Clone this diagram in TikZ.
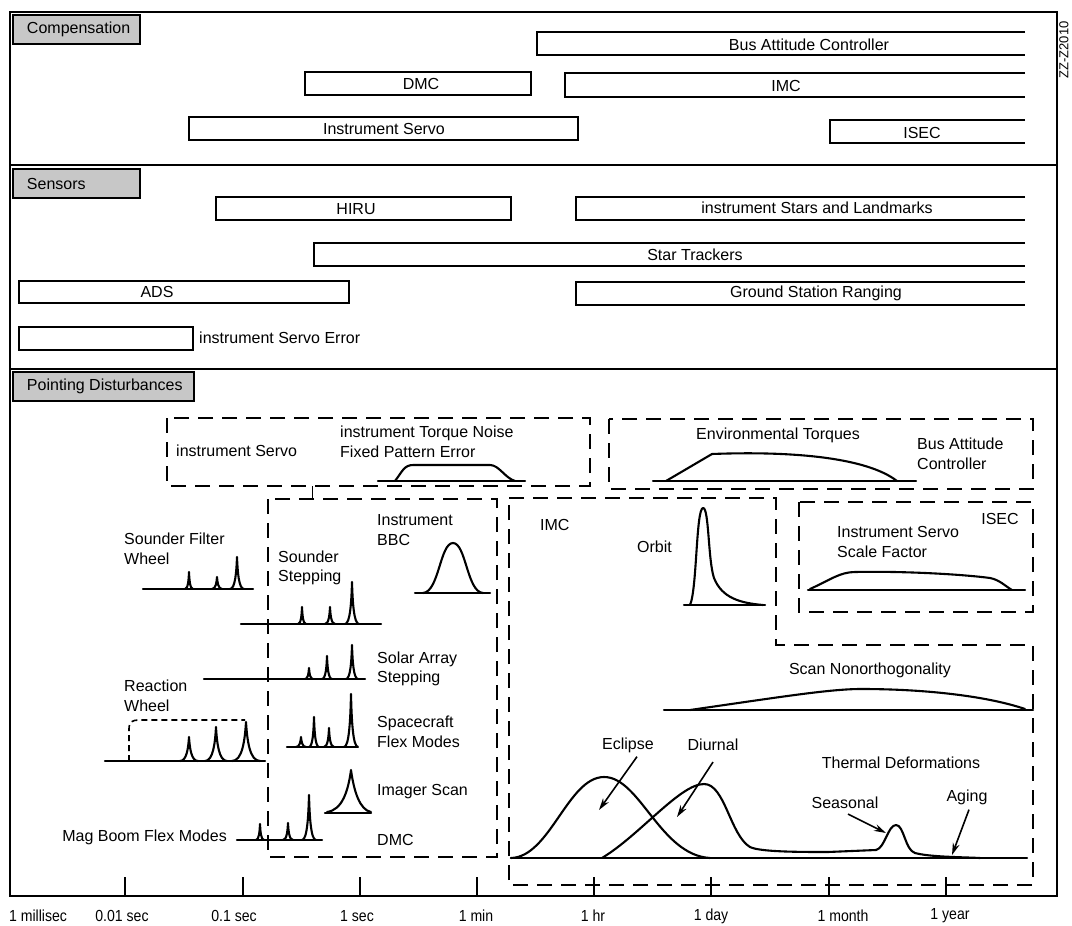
\documentclass[tikz,border=0pt]{standalone}
\usepackage{fontspec}
\setmainfont{Liberation Sans}
\usetikzlibrary{arrows.meta}
\tikzset{
  frame/.style={line width=2pt},
  bar/.style={line width=2.8pt},
  hdr/.style={draw, line width=2pt, fill=black!22, anchor=north west, inner xsep=14pt, inner ysep=0pt, minimum height=29pt, font=\fontsize{16}{19.5}\selectfont},
  lbl/.style={inner sep=0pt, font=\fontsize{16}{19.5}\selectfont},
  lblL/.style={lbl, anchor=west, align=left},
  dbox/.style={line width=2pt, dash pattern=on 15pt off 9pt},
  crv/.style={line width=2.1pt, line join=round, line cap=round},
  arr/.style={line width=1.6pt, -{Stealth[length=12pt,width=7pt]}},
  axlbl/.style={inner sep=0pt, font=\fontsize{16}{19}\selectfont},
}
\newcommand\myspike[4]{% x, base y, height, half width
  \draw[crv] ({#1-#4},#2) .. controls ({#1-0.25*#4},#2) and ({#1-0.08*#4},{#2-0.55*#3}) .. (#1,{#2-#3}) .. controls ({#1+0.08*#4},{#2-0.55*#3}) and ({#1+0.25*#4},#2) .. ({#1+#4},#2);}
\begin{document}
\begin{tikzpicture}[x=1pt,y=-1pt]
\useasboundingbox (0,0) rectangle (1072,926);
% frame
\draw[frame] (10,12) -- (1057,12) -- (1057,896) -- (10,896) -- cycle;
\draw[frame] (10,165) -- (1057,165);
\draw[frame] (10,369) -- (1057,369);
\node[rotate=90, inner sep=0pt, font=\fontsize{13}{15}\selectfont] (fig) at (1064,50) {ZZ-Z2010};
% headers
\node[hdr] (hComp) at (12,14) {\makebox[99pt][l]{Compensation}};
\node[hdr] (hSens) at (12,168) {\makebox[99pt][l]{Sensors}};
\node[hdr] (hPoint) at (12,371) {\makebox[153pt][l]{Pointing Disturbances}};
% compensation bars
\draw[bar] (1025,32) -- (537,32) -- (537,55) -- (1025,55);
\draw[bar] (305,72) rectangle (531,95);
\draw[bar] (1025,73) -- (565,73) -- (565,97) -- (1025,97);
\draw[bar] (189,117) rectangle (578,140);
\draw[bar] (1025,120) -- (830,120) -- (830,143) -- (1025,143);
\node[lbl] (tBAC) at (809,45) {Bus Attitude Controller};
\node[lbl] (tDMC) at (421,84) {DMC};
\node[lbl] (tIMC) at (786,86) {IMC};
\node[lbl] (tIS) at (384,129) {Instrument Servo};
\node[lbl] (tISEC) at (922,133) {ISEC};
% sensor bars
\draw[bar] (216,197) rectangle (511,220);
\draw[bar] (1025,197) -- (576,197) -- (576,220) -- (1025,220);
\draw[bar] (1025,243) -- (314,243) -- (314,266) -- (1025,266);
\draw[bar] (19,281) rectangle (349,303);
\draw[bar] (1025,282) -- (576,282) -- (576,305) -- (1025,305);
\draw[bar] (19,327) rectangle (193,350);
\node[lbl] (tHIRU) at (356,209) {HIRU};
\node[lbl] (tSL) at (817,208) {instrument Stars and Landmarks};
\node[lbl] (tST) at (695,255) {Star Trackers};
\node[lbl] (tADS) at (157,292) {ADS};
\node[lbl] (tGSR) at (816,293) {Ground Station Ranging};
\node[lblL] (tISE) at (199,338) {instrument Servo Error};
% dashed boxes
\draw[dbox] (167,418) rectangle (590,486);
\draw[dbox] (609,419) rectangle (1033,489);
\draw[dbox] (268,499) rectangle (497,857);
\draw[dbox] (509,498) -- (776,498) -- (776,645) -- (1033,645) -- (1033,885) -- (509,885) -- cycle;
\draw[dbox] (799,502) rectangle (1033,612);
\draw[line width=1pt] (312,486) -- (312,498);
% box 1
\node[lblL] (tIS2) at (176,451) {instrument Servo};
\node[lblL] (tTN) at (340,442) {instrument Torque Noise\\Fixed Pattern Error};
\draw[crv] (378,481) -- (525,481);
\draw[crv] (395,481) .. controls (402,472) and (404,465) .. (413,465) -- (490,465) .. controls (499,465) and (505,478) .. (515,481);
% box 2
\node[lbl] (tET) at (778,435) {Environmental Torques};
\node[lblL] (tBAC2) at (917,454) {Bus Attitude\\Controller};
\draw[crv] (653,481) -- (916,481);
\draw[crv] (666,481) -- (712,454) .. controls (790,451) and (866,457) .. (897,481);
% left spectra
\node[lblL] (tSFW) at (124,549) {Sounder Filter\\Wheel};
\draw[crv] (143,589) -- (253,589);
\myspike{189}{589}{17}{4}
\myspike{217}{589}{12}{5}
\myspike{237}{589}{32}{7}
\node[lblL] (tSS) at (278,568) {Sounder\\Stepping};
\draw[crv] (241,624) -- (381,624);
\myspike{302}{624}{17}{4}
\myspike{330}{624}{17}{5}
\myspike{352}{624}{42}{7}
\node[lblL] (tBBC) at (377,530) {Instrument\\BBC};
\draw[crv] (415,593) -- (490,593);
\draw[crv] (423,593) .. controls (439,592) and (440,543) .. (453,543) .. controls (466,543) and (467,592) .. (483,593);
\node[lblL] (tSA) at (377,669) {Solar Array\\Stepping};
\draw[crv] (204,679) -- (365,679);
\myspike{309}{679}{11}{4}
\myspike{327}{679}{23}{5}
\myspike{352}{679}{34}{6}
\node[lblL] (tRW) at (124,696) {Reaction\\Wheel};
\draw[crv] (105,761) -- (265,761);
\myspike{189}{761}{24}{9}
\myspike{216}{761}{34}{11}
\myspike{246}{761}{39}{14}
\draw[line width=1.6pt, dash pattern=on 6pt off 4pt] (129,761) -- (129,729) .. controls (129,722) and (132,720) .. (139,720) -- (245,720);
\node[lblL] (tSF) at (377,732) {Spacecraft\\Flex Modes};
\draw[crv] (287,747) -- (357,747);
\myspike{301}{747}{10}{5}
\myspike{314}{747}{30}{5}
\myspike{329}{747}{19}{5}
\myspike{351}{747}{53}{7}
\node[lblL] (tIMS) at (377,792) {Imager Scan};
\draw[crv] (325,813) -- (371,813);
\draw[crv] (327,812) .. controls (342,810) and (348,792) .. (351,770) .. controls (354,792) and (360,810) .. (371,812);
\node[lbl, anchor=east] (tMB) at (227,837) {Mag Boom Flex Modes};
\draw[crv] (237,840) -- (322,840);
\myspike{260}{840}{16}{4}
\myspike{288}{840}{17}{5}
\myspike{309}{840}{45}{7}
\node[lblL] (tDMC2) at (377,840) {DMC};
% IMC box
\node[lblL] (tIMC2) at (540,525) {IMC};
\node[lblL] (tOrb) at (637,547) {Orbit};
\draw[crv] (684,605) -- (765,605);
\draw[crv] (690,605) .. controls (697,590) and (696,509) .. (703,508) .. controls (709,507) and (708,560) .. (714,578) .. controls (722,598) and (740,603) .. (763,605);
% ISEC box
\node[lbl] (tISEC2) at (1000,519) {ISEC};
\node[lblL] (tISF) at (837,542) {Instrument Servo\\Scale Factor};
\draw[crv] (808,590) -- (1025,590);
\draw[crv] (810,589) .. controls (830,580) and (840,572) .. (855,572) .. controls (900,571) and (960,574) .. (990,578) .. controls (1000,580) and (1005,586) .. (1012,590);
% scan nonorthogonality
\node[lbl] (tSN) at (870,670) {Scan Nonorthogonality};
\draw[crv] (664,710) -- (1033,710);
\draw[crv] (690,710) .. controls (780,697) and (830,689) .. (861,689) .. controls (930,689) and (990,697) .. (1025,709);
% thermal
\draw[crv] (511,858) -- (1027,858);
\draw[crv] (511,858) .. controls (550,857) and (568,777) .. (604,777) .. controls (640,777) and (660,855) .. (710,858);
\draw[crv] (602,858) .. controls (640,835) and (680,784) .. (704,784) .. controls (725,784) and (730,835) .. (750,847) .. controls (760,852) and (800,852) .. (828,852) -- (876,850) .. controls (885,848) and (888,825) .. (896,825) .. controls (904,825) and (905,850) .. (915,853) .. controls (930,857) and (960,857) .. (980,858);
\node[lbl] (tEcl) at (628,745) {Eclipse};
\node[lbl] (tDiu) at (713,745) {Diurnal};
\node[lbl] (tTD) at (901,763) {Thermal Deformations};
\node[lbl] (tSea) at (845,803) {Seasonal};
\node[lbl] (tAg) at (967,797) {Aging};
\coordinate (pEcl) at (599,810);
\coordinate (pDiu) at (677,817);
\coordinate (pSea) at (886,833);
\coordinate (pAg) at (952,855);
\draw[arr] ([xshift=9pt,yshift=-4pt]tEcl.south) -- (pEcl);
\draw[arr] ([yshift=-11pt]tDiu.south) -- (pDiu);
\draw[arr] ([xshift=3pt,yshift=-5pt]tSea.south) -- (pSea);
\draw[arr] ([xshift=2pt,yshift=-5pt]tAg.south) -- (pAg);
% axis
\foreach \t in {125,243,360,477,594,711,829,946} \draw[frame] (\t,877) -- (\t,896);
\node[axlbl] (a1) at (38,916) {\scalebox{0.88}[1]{1 millisec}};
\node[axlbl] (a2) at (122,916) {\scalebox{0.88}[1]{0.01 sec}};
\node[axlbl] (a3) at (234,916) {\scalebox{0.88}[1]{0.1 sec}};
\node[axlbl] (a4) at (357,916) {\scalebox{0.88}[1]{1 sec}};
\node[axlbl] (a5) at (476,916) {\scalebox{0.88}[1]{1 min}};
\node[axlbl] (a6) at (593,916) {\scalebox{0.88}[1]{1 hr}};
\node[axlbl] (a7) at (711,916) {\scalebox{0.88}[1]{1 day}};
\node[axlbl] (a8) at (843,916) {\scalebox{0.88}[1]{1 month}};
\node[axlbl] (a9) at (950,916) {\scalebox{0.88}[1]{1 year}};
\end{tikzpicture}
\end{document}
